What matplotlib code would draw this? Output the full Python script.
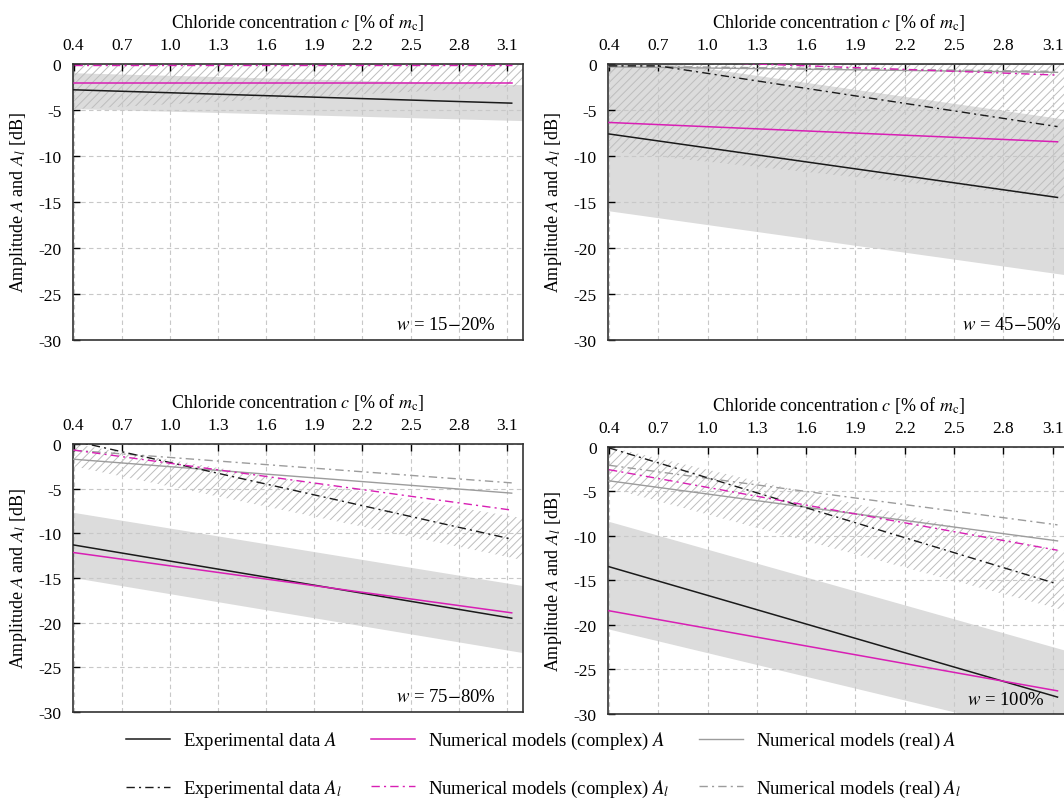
import numpy as np
import matplotlib.pyplot as plt

plt.rcParams['font.family'] = ['Liberation Serif', 'DejaVu Serif']
plt.rcParams['mathtext.fontset'] = 'stix'
plt.rcParams['axes.unicode_minus'] = False
plt.rcParams['hatch.linewidth'] = 0.7

# chloride concentration where the lines start / end, and where the bands end
c_line = [0.4, 3.13]
c_band = [0.4, 3.2]
c_kink = [0.4, 0.7, 3.13]

# ----- w = 15-20 % -----
tl_exp_A = [-2.8, -4.25]
tl_cplx_A = [-2.1, -2.1]
tl_cplx_Al = [-0.05, -0.05]
tl_band_up, tl_band_lo = [-1.0, -2.3], [-4.9, -6.2]
tl_hatch_up, tl_hatch_lo = [0.0, 0.0], [-4.9, -2.4]

# ----- w = 45-50 % -----
tr_exp_A = [-7.6, -14.5]
tr_exp_Al = [-0.2, -0.2, -6.8]
tr_cplx_A = [-6.35, -8.45]
tr_cplx_Al = [0.6, -1.2]
tr_real_A = [-0.3, -0.9]
tr_real_Al = [-0.2, -0.8]
tr_band_up, tr_band_lo = [1.0, -6.1], [-16.0, -23.0]
tr_hatch_up, tr_hatch_lo = [0.0, 0.0], [-9.5, -14.7]

# ----- w = 75-80 % -----
bl_exp_A = [-11.3, -19.5]
bl_exp_Al = [0.35, -10.65]
bl_cplx_A = [-12.15, -18.9]
bl_cplx_Al = [-0.67, -7.4]
bl_real_A = [-1.7, -5.5]
bl_real_Al = [-0.7, -4.35]
bl_band_up, bl_band_lo = [-7.7, -15.9], [-15.0, -23.4]
bl_hatch_up, bl_hatch_lo = [0.0, -8.3], [-2.5, -13.0]

# ----- w = 100 % -----
br_exp_A = [-13.45, -28.1]
br_exp_Al = [-0.1, -15.4]
br_cplx_A = [-18.4, -27.4]
br_cplx_Al = [-2.55, -11.6]
br_real_A = [-3.8, -10.55]
br_real_Al = [-2.05, -8.75]
br_band_up, br_band_lo = [-8.4, -23.0], [-20.5, -32.9]
br_hatch_up, br_hatch_lo = [0.0, -11.9], [-4.6, -18.5]

x_ticks = [0.4, 0.7, 1.0, 1.3, 1.6, 1.9, 2.2, 2.5, 2.8, 3.1]
y_ticks = [0, -5, -10, -15, -20, -25, -30]
w_labels = ['$w$ = 15$-$20%', '$w$ = 45$-$50%', '$w$ = 75$-$80%', '$w$ = 100%']

BLACK = '#1a1a1a'
MAGENTA = '#d81fb4'
GRAY = '#9c9c9c'
DD = (0, (6, 3, 1.5, 3))

panels = [
    dict(exp_A=tl_exp_A, cplx_A=tl_cplx_A, cplx_Al=tl_cplx_Al,
         band=(tl_band_up, tl_band_lo), hatch=(tl_hatch_up, tl_hatch_lo)),
    dict(exp_A=tr_exp_A, exp_Al=tr_exp_Al, cplx_A=tr_cplx_A, cplx_Al=tr_cplx_Al,
         real_A=tr_real_A, real_Al=tr_real_Al,
         band=(tr_band_up, tr_band_lo), hatch=(tr_hatch_up, tr_hatch_lo)),
    dict(exp_A=bl_exp_A, exp_Al=bl_exp_Al, cplx_A=bl_cplx_A, cplx_Al=bl_cplx_Al,
         real_A=bl_real_A, real_Al=bl_real_Al,
         band=(bl_band_up, bl_band_lo), hatch=(bl_hatch_up, bl_hatch_lo)),
    dict(exp_A=br_exp_A, exp_Al=br_exp_Al, cplx_A=br_cplx_A, cplx_Al=br_cplx_Al,
         real_A=br_real_A, real_Al=br_real_Al,
         band=(br_band_up, br_band_lo), hatch=(br_hatch_up, br_hatch_lo)),
]

positions = [
    [0.0682, 0.5753, 0.4233, 0.3437],
    [0.5714, 0.5753, 0.4333, 0.3437],
    [0.0682, 0.1121, 0.4233, 0.3337],
    [0.5714, 0.1096, 0.4333, 0.3325],
]
w_pos = [(0.83, 0.055), (0.876, 0.055), (0.83, 0.058), (0.863, 0.056)]

styles = {
    'exp_A': dict(color=BLACK, ls='-', lw=1.1, label='Experimental data $A$'),
    'exp_Al': dict(color=BLACK, ls=DD, lw=1.0, label='Experimental data $A_l$'),
    'cplx_A': dict(color=MAGENTA, ls='-', lw=1.1, label='Numerical models (complex) $A$'),
    'cplx_Al': dict(color=MAGENTA, ls=DD, lw=1.0, label='Numerical models (complex) $A_l$'),
    'real_A': dict(color=GRAY, ls='-', lw=1.0, label='Numerical models (real) $A$'),
    'real_Al': dict(color=GRAY, ls=DD, lw=1.0, label='Numerical models (real) $A_l$'),
}

fig = plt.figure(figsize=(10.64, 8.03), dpi=100)
handles = {}

for i, p in enumerate(panels):
    ax = fig.add_axes(positions[i])
    ax.fill_between(c_band, p['band'][0], p['band'][1], facecolor='#dcdcdc',
                    edgecolor='none', zorder=0.2)
    ax.fill_between(c_band, p['hatch'][0], p['hatch'][1], facecolor='none',
                    edgecolor='#bdbdbd', hatch='////', linewidth=0, zorder=0.3)
    for key in ['real_A', 'real_Al', 'exp_Al', 'cplx_Al', 'exp_A', 'cplx_A']:
        if key not in p:
            continue
        y = p[key]
        x = c_kink if len(y) == 3 else c_line
        line, = ax.plot(x, y, zorder=3, **styles[key])
        handles[key] = line

    ax.set_xlim(0.394, 3.2)
    ax.set_ylim(-30, 0)
    ax.xaxis.tick_top()
    ax.xaxis.set_label_position('top')
    ax.set_xticks(x_ticks)
    ax.set_xticklabels([f"{v:.1f}" for v in x_ticks])
    ax.set_yticks(y_ticks)
    ax.set_yticklabels([str(v) for v in y_ticks])
    ax.tick_params(direction='in', length=5, width=1.0, labelsize=12.5,
                   top=True, bottom=False, left=True, right=False, pad=8)
    ax.grid(True, color='#c8c8c8', ls=(0, (4, 3)), lw=0.8, zorder=0.5)
    for s in ax.spines.values():
        s.set_color('#333333')
        s.set_linewidth(1.2)
    ax.set_xlabel('Chloride concentration $c$ [% of $m_\\mathrm{c}$]', fontsize=13, labelpad=7)
    ax.set_ylabel('Amplitude $A$ and $A_l$ [dB]', fontsize=13, labelpad=7)
    ax.text(w_pos[i][0], w_pos[i][1], w_labels[i], transform=ax.transAxes,
            ha='center', va='center', fontsize=13.5, zorder=4)

order = ['exp_A', 'exp_Al', 'cplx_A', 'cplx_Al', 'real_A', 'real_Al']
fig.legend([handles[k] for k in order], [styles[k]['label'] for k in order],
           ncol=3, loc='center', bbox_to_anchor=(0.511, 0.047), frameon=False,
           fontsize=13.5, handlelength=2.35, handletextpad=0.7,
           columnspacing=1.55, labelspacing=1.4)

fig.savefig('out.png', dpi=100)
